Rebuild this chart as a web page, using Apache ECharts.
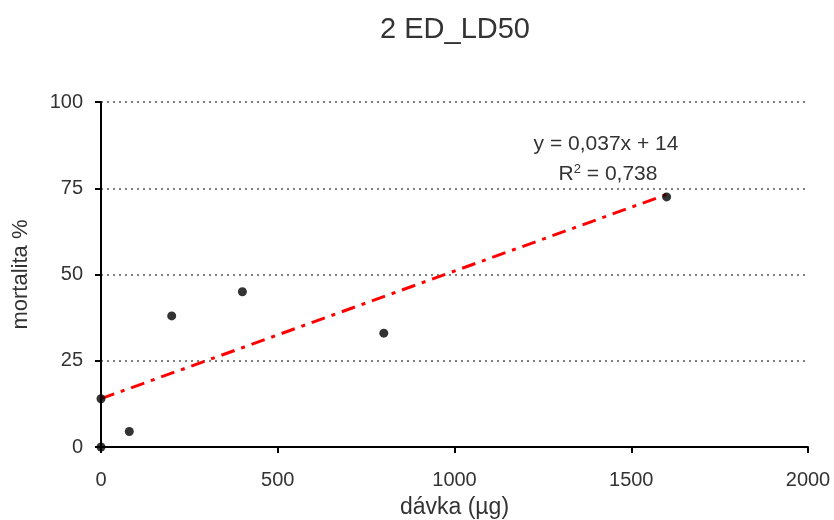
<!DOCTYPE html>
<html>
<head>
<meta charset="utf-8">
<script src="https://cdn.jsdelivr.net/npm/echarts@6/dist/echarts.min.js"></script>
<style>
  html, body { margin: 0; padding: 0; background: #fff; }
  #chart { width: 834px; height: 520px; }
</style>
</head>
<body>
<div id="chart"></div>
<script>
// hodnoty
const dose = [0, 0, 80, 200, 400, 800, 1600];
const mortality = [0, 14, 4.5, 38, 45, 33, 72.5];
const trendX = [0, 1600];
const slope = 0.037;
const intercept = 14;
const eqText = 'y = 0,037x + 14';
const r2Text = 'R{s|2} = 0,738';

const chart = echarts.init(document.getElementById('chart'));
const font = 'Liberation Sans, Arial, sans-serif';

const option = {
    animation: false,
    title: {
        text: '2 ED_LD50',
        left: 450, top: 10, textAlign: 'center',
        textStyle: { fontFamily: font, fontSize: 29, fontWeight: 'normal', color: '#333' }
    },
    grid: { left: 101, right: 26, top: 102, bottom: 73, outerBoundsMode: 'none', containLabel: false },
    xAxis: {
        type: 'value', min: 0, max: 2000, interval: 500,
        name: 'dávka (µg)', nameLocation: 'middle', nameGap: 49,
        nameTextStyle: { fontFamily: font, fontSize: 23, color: '#333' },
        axisLine: { lineStyle: { color: '#000', width: 2 } },
        axisTick: { show: true, length: 6, lineStyle: { color: '#000', width: 2 } },
        axisLabel: { fontFamily: font, fontSize: 20, color: '#333', margin: 23, formatter: v => String(v) },
        splitLine: { show: false }
    },
    yAxis: {
        type: 'value', min: 0, max: 100, interval: 25,
        name: 'mortalita %', nameLocation: 'middle', nameGap: 69,
        nameTextStyle: { fontFamily: font, fontSize: 22, color: '#333' },
        axisLine: { show: true, lineStyle: { color: '#000', width: 2 } },
        axisTick: { show: true, length: 6, lineStyle: { color: '#000', width: 2 } },
        axisLabel: { fontFamily: font, fontSize: 20, color: '#333', margin: 18 },
        splitLine: { show: true, lineStyle: { color: '#555', width: 1.5, type: [2, 4] } }
    },
    series: [
        {
            type: 'line',
            data: trendX.map(x => [x, slope * x + intercept]),
            symbol: 'none',
            lineStyle: { color: '#ff0000', width: 3, type: [14, 7, 4, 7] },
            z: 2
        },
        {
            type: 'scatter',
            data: dose.map((x, i) => [x, mortality[i]]),
            symbol: 'circle', symbolSize: 9,
            itemStyle: { color: '#000' },
            z: 3
        }
    ],
    graphic: [
        {
            type: 'text', x: 606, y: 144,
            style: { text: eqText, fontFamily: font, fontSize: 21, fill: '#333', align: 'center', verticalAlign: 'middle' }
        },
        {
            type: 'text', x: 608, y: 174,
            style: {
                text: r2Text, fontFamily: font, fontSize: 21, fill: '#333', align: 'center', verticalAlign: 'middle',
                rich: { s: { fontSize: 13, verticalAlign: 'top', padding: [0, 0, 10, 0], fill: '#333' } }
            }
        }
    ]
};
chart.setOption(option);
</script>
</body>
</html>
